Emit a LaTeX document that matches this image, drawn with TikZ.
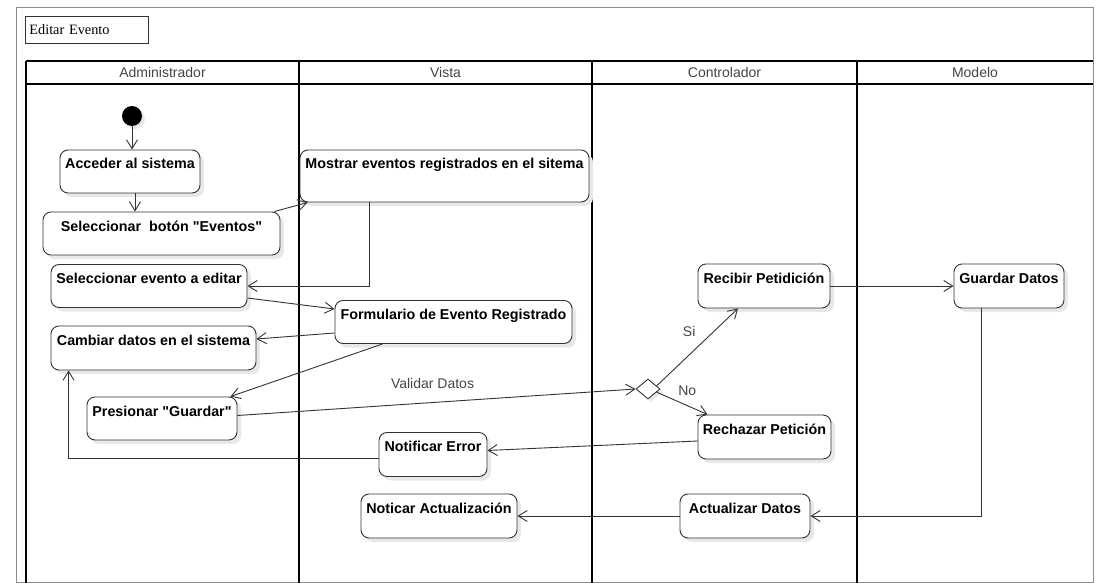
\documentclass[tikz,border=0pt]{standalone}
\usepackage{fontspec}
\setmainfont{Liberation Sans}[Ligatures=TeXOff]
\newfontfamily\titlefont{Liberation Serif}
\usetikzlibrary{arrows.meta, calc, shapes.geometric, shadows}
\definecolor{lngray}{HTML}{333333}
\definecolor{txgray}{HTML}{444444}
\definecolor{frgray}{HTML}{8C8C8C}
\definecolor{shgray}{HTML}{E8E8E8}

\begin{document}
\begin{tikzpicture}[x=1pt, y=-1pt, >={Straight Barb[length=9pt, width=11pt]},
  act/.style={draw=lngray, line width=0.9pt, rounded corners=8pt, fill=white,
    font=\fontsize{14.3}{16}\selectfont\bfseries, inner xsep=3pt, inner ysep=0pt,
    text height=19pt, text depth=#1,
    drop shadow={shadow xshift=4pt, shadow yshift=-4pt, fill=shgray, opacity=1}},
  act/.default=24pt,
  decis/.style={diamond, draw=lngray, line width=0.9pt, fill=white, aspect=1.2,
    minimum width=24pt, minimum height=20pt, inner sep=0pt,
    drop shadow={shadow xshift=3pt, shadow yshift=-3pt, fill=shgray, opacity=1}},
  flow/.style={draw=lngray, line width=0.9pt, ->},
  guard/.style={font=\fontsize{14}{16}\selectfont, text=txgray},
  lane/.style={draw=black, line width=2pt},
  lanehead/.style={font=\fontsize{14}{16}\selectfont, text=txgray}]

\useasboundingbox (0,0) rectangle (1096,583);

% ============================================================
% Frame, title and swimlanes
% ============================================================
\draw[frgray, line width=0.8pt] (16,7) rectangle (1093,582);
\node[draw=lngray, line width=0.8pt, anchor=north west, minimum height=27pt,
  text width=115pt, align=left, inner xsep=4pt,
  font=\titlefont\fontsize{14.3}{16}\selectfont] (title) at (25,16) {Editar Evento};

\draw[lane] (26,61) -- (1093,61) (26,84) -- (1093,84);
\foreach \xa in {26,299,592,857}
  \draw[lane] (\xa,61) -- (\xa,583);
\foreach \xa/\xb/\lname in {26/299/Administrador, 299/592/Vista,
                            592/857/Controlador, 857/1093/Modelo}
  \node[lanehead] (hd\lname) at ({(\xa+\xb)/2},72.5) {\lname};

% ============================================================
% Administrador
% ============================================================
\node[circle, fill=black, minimum size=20pt, inner sep=0pt,
  drop shadow={shadow xshift=3pt, shadow yshift=-3pt, fill=shgray, opacity=1}] (start) at (132,116) {};
\node[act, minimum width=140pt] (acc) at (130,171.5) {Acceder al sistema};
\node[act, minimum width=237pt] (selb) at (161.5,233.5) {Seleccionar\ \ botón "Eventos"};
\node[act, minimum width=196pt] (sele) at (149,286) {Seleccionar evento a editar};
\node[act=25pt, minimum width=205pt] (camb) at (153.5,348) {Cambiar datos en el sistema};
\node[act, minimum width=150pt] (pres) at (162,418.5) {Presionar "Guardar"};

% ============================================================
% Vista
% ============================================================
\node[act=33pt, minimum width=289pt] (most) at (444.5,176) {Mostrar eventos registrados en el sitema};
\node[act, minimum width=237pt] (form) at (453.5,322) {Formulario de Evento Registrado};
\node[act=25pt, minimum width=108pt] (nerr) at (433,454.5) {Notificar Error};
\node[act=25pt, minimum width=156pt] (nact) at (439,516) {Noticar Actualización};

% ============================================================
% Controlador and Modelo
% ============================================================
\node[decis] (dec) at (648,389) {};
\node[act=25pt, minimum width=132pt] (reci) at (764,286) {Recibir Petidición};
\node[act=25pt, minimum width=133pt] (rech) at (764.5,437) {Rechazar Petición};
\node[act=25pt, minimum width=130pt] (actu) at (745,516) {Actualizar Datos};
\node[act=25pt, minimum width=110pt] (guar) at (1009,286) {Guardar Datos};

% ============================================================
% Flows
% ============================================================
\draw[flow] (start) -- (start |- acc.north);
\draw[flow] ($(acc.south)+(5,0)$) -- ($(acc.south |- selb.north)+(5,0)$);
\draw[flow] ([xshift=-6pt]selb.north east) -- ([xshift=8pt]most.south west);
\draw[flow] ([xshift=70pt]most.south west) |- (sele.east);
\draw[flow] ([yshift=-12pt]sele.east) -- ([yshift=13pt]form.west);
\draw[flow] ([yshift=-11pt]form.west) -- ([yshift=9pt]camb.east);
\draw[flow] ([xshift=48pt]form.south west) -- ([xshift=-7pt]pres.north east);
\draw[flow] ([yshift=3pt]pres.east) -- node[guard, pos=0.49, above=10pt] {Validar Datos} (dec.west);
\draw[flow] (dec.20) -- node[guard, pos=0.4, above=14pt] {Si} ([xshift=-26pt]reci.south);
\draw[flow] (dec.-20) -- node[guard, pos=0.6, above=6pt] {No} ([xshift=10pt]rech.north west);
\draw[flow] (reci.east) -- (guar.west);
\draw[flow] ([xshift=28pt]guar.south west) |- (actu.east);
\draw[flow] (actu.west) -- (nact.east);
\draw[flow] ([yshift=-4pt]rech.west) -- ([yshift=4pt]nerr.east);
\draw[flow] ([yshift=-4pt]nerr.west) -| ([xshift=18pt]camb.south west);

\end{tikzpicture}
\end{document}
